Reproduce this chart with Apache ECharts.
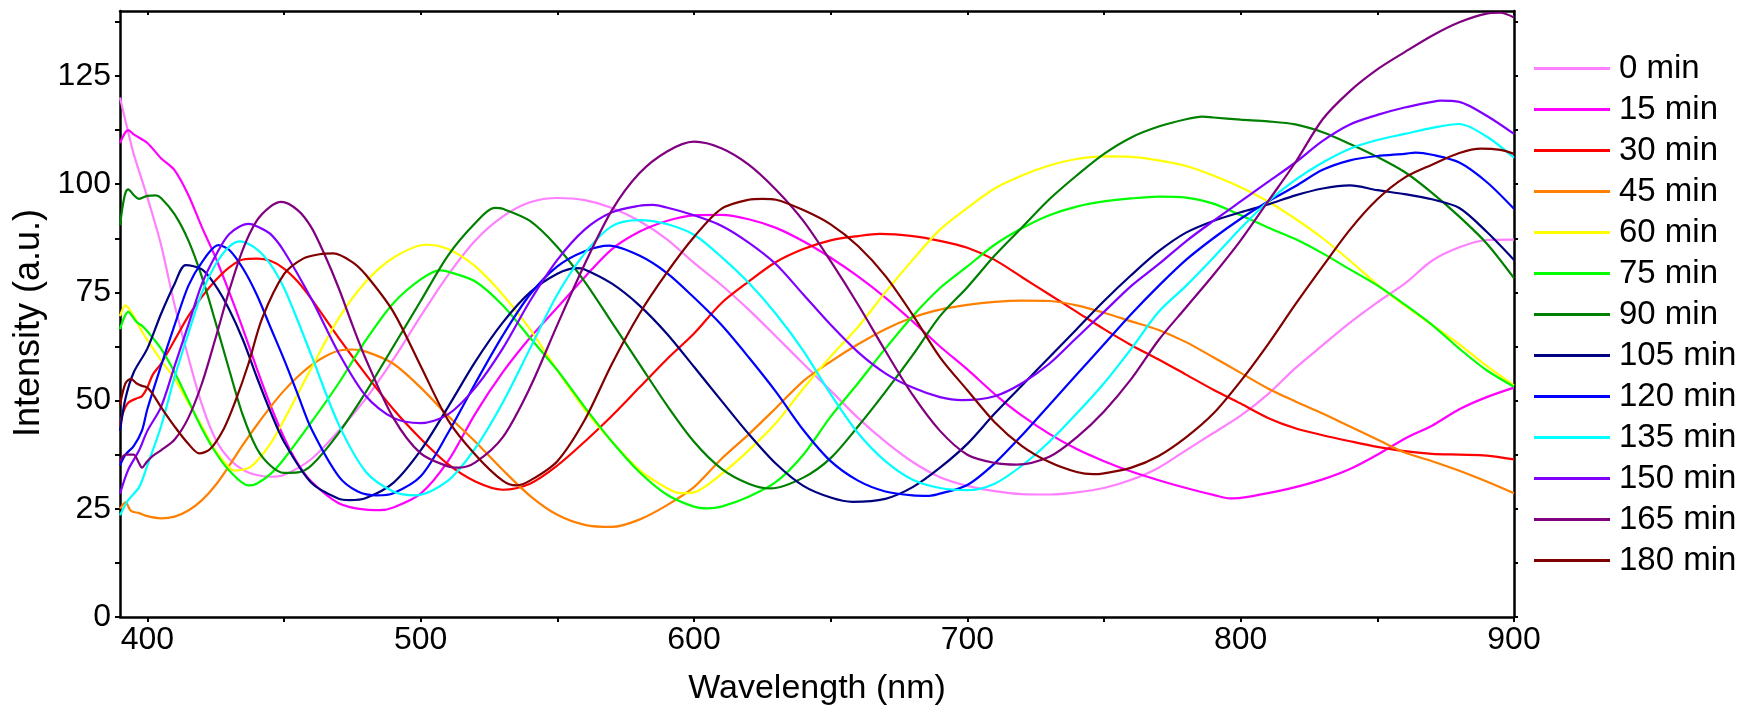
<!DOCTYPE html>
<html><head><meta charset="utf-8">
<script src="https://cdn.jsdelivr.net/npm/echarts@6/dist/echarts.min.js"></script>
<style>html,body{margin:0;padding:0;background:#fff}#c{width:1753px;height:718px}</style>
</head><body><div id="c"></div>
<script>
const seriesNames = ['0 min','15 min','30 min','45 min','60 min','75 min','90 min','105 min','120 min','135 min','150 min','165 min','180 min'];
const seriesColors = ['#FF80FF','#FF00FF','#FF0000','#FF8000','#FFFF00','#00FF00','#008000','#000080','#0000FF','#00FFFF','#8000FF','#800080','#800000'];

const s0 = [[390,120],[393,112],[395,107],[398,101],[400,97],[405,86],[410,72],[415,60],[420,49],[425,41],[430,36.5],[435,34],[440,32.8],[445,32.4],[450,32.8],[460,36.5],[470,43],[480,50.5],[490,59.5],[500,69.5],[510,79],[520,87],[530,92.5],[540,95.8],[550,96.8],[560,96.3],[570,94.5],[580,91.5],[590,87.3],[600,81.8],[610,76.7],[620,71],[630,64.8],[640,58.5],[650,52.3],[660,46],[670,40.5],[680,35.8],[690,32.3],[700,30.3],[710,29.1],[720,28.4],[730,28.3],[740,28.8],[750,29.8],[760,31.7],[770,34.5],[780,38.5],[790,42.5],[800,46.5],[810,51.5],[820,57.5],[830,62.8],[840,68],[850,72.7],[860,77],[870,82.3],[880,85.4],[890,87.1],[900,87.2]];
const s15 = [[390,109.5],[392,112],[393,112.5],[395,111.5],[400,109.5],[405,106],[410,103.2],[415,97.5],[420,90],[425,83],[430,75],[435,66.5],[440,57.5],[445,49],[450,41.5],[455,35.5],[460,31.3],[470,26.3],[480,24.8],[485,24.7],[490,25.3],[500,28.5],[510,36],[520,47],[530,56.5],[540,64.5],[550,71.5],[560,78.5],[570,85],[580,89],[590,91.5],[600,92.8],[610,92.9],[620,91.9],[630,89.9],[640,86.8],[650,83],[660,78.7],[670,73.8],[680,68.3],[690,62.5],[700,57.2],[710,51.5],[720,46.5],[730,42.3],[740,38.8],[750,36],[760,33.6],[770,31.6],[780,29.8],[790,28.2],[796,27.4],[800,27.5],[810,28.6],[820,30],[830,31.8],[840,34.2],[850,37.5],[860,41.2],[870,44.2],[880,48],[890,50.8],[900,53]];
const s30 = [[390,44],[391,47],[393,49.5],[396,50.5],[398,51],[400,53],[402,56],[405,58.5],[410,64],[415,69.5],[420,74],[425,77.8],[430,80.8],[435,82.6],[440,82.8],[445,82.3],[450,80.5],[455,77.5],[460,73.5],[470,64.5],[480,56],[490,48],[500,41.2],[510,35.3],[520,31.3],[530,29.4],[540,30.8],[550,35],[560,40.5],[570,46.5],[580,53],[590,59.5],[600,65.5],[610,72.5],[620,77.5],[630,82],[640,85],[650,87],[660,88],[668,88.5],[680,88],[690,86.9],[700,85.3],[710,82.5],[720,78.5],[730,74.5],[740,70.5],[750,66.5],[760,62.8],[770,59.5],[780,56],[790,52.5],[800,49.3],[810,46],[820,43.6],[830,42],[840,40.6],[850,39.3],[860,38.3],[870,37.7],[880,37.5],[890,37.3],[900,36.4]];
const s45 = [[390,25],[392,26.5],[394,24.5],[397,24],[400,23.3],[405,22.8],[410,23.2],[415,24.6],[420,27],[425,30.5],[430,35],[435,39.8],[440,44.3],[445,48.5],[450,52.3],[455,55.5],[460,58.2],[465,60.2],[470,61.5],[475,61.8],[480,61.3],[490,58.5],[500,53],[510,46.5],[520,40.5],[530,34],[540,28],[550,23.6],[560,21.3],[570,20.8],[580,22.5],[590,25.8],[600,30],[610,36.5],[620,42.2],[630,48.3],[640,54.5],[650,59],[660,63],[670,66.5],[680,69.2],[690,71],[700,72.1],[710,72.8],[720,73.1],[730,73],[740,72],[750,70.3],[760,68.3],[770,66.3],[780,63.5],[790,60],[800,56.4],[810,52.8],[820,49.8],[830,47],[840,44],[850,41],[860,38],[870,36],[880,33.8],[890,31.3],[900,28.6]];
const s60 = [[390,69.5],[392,72],[395,69.5],[398,66],[400,64],[405,59.3],[410,55],[415,49.5],[420,44],[425,38.3],[430,34.5],[432,33.8],[437,34.4],[440,36],[445,40],[450,45.5],[455,51.5],[460,57.5],[470,69],[480,77.5],[490,83],[502,86],[510,85],[520,81],[530,74.5],[540,66.5],[550,57],[560,48],[570,40.5],[580,34],[590,29.8],[595,28.6],[600,28.8],[610,33],[620,38.5],[630,44.8],[640,52.8],[650,60.2],[660,67],[670,75],[680,82.5],[690,89.5],[700,94.5],[710,99],[720,102],[730,104.3],[740,105.8],[750,106.4],[760,106.3],[770,105.5],[780,104.2],[790,102],[800,99.3],[810,96],[820,92],[830,87.5],[840,82.3],[850,76.8],[860,72],[870,67.5],[880,63],[890,58],[900,53.5]];
const s75 = [[390,66.5],[393,70.5],[396,68.2],[398,67.3],[400,66],[405,62],[410,56.5],[415,50],[420,43.5],[425,38],[430,33.8],[437,30.4],[440,30.8],[445,33],[450,36.5],[460,45],[470,54],[480,64],[490,72.5],[500,78],[507,80.1],[510,79.8],[520,77.5],[530,72],[540,64.5],[550,57],[560,48.5],[570,40.5],[580,33.5],[590,28.3],[600,25.5],[605,25.1],[610,25.5],[620,27.8],[630,31.2],[640,37.5],[650,46.3],[660,54],[670,62],[680,69.5],[690,76],[700,81],[710,86],[720,89.8],[730,92.8],[740,94.8],[750,96],[760,96.7],[770,97.1],[780,96.9],[790,95.5],[800,92.8],[810,90],[820,87.3],[830,84],[840,80.3],[850,76.6],[860,72.2],[870,67.5],[880,62],[890,57],[900,53.2]];
const s90 = [[390,90.5],[391,95],[392,98],[393,98.8],[395,97.5],[397,96.6],[400,97.3],[403,97.4],[405,96.8],[410,93],[415,87],[420,78.5],[425,68],[430,57],[435,46.5],[440,39],[445,35],[450,33.3],[455,33.4],[460,35],[470,42.5],[480,52],[490,62.5],[500,73],[510,83.5],[520,91],[527,94.5],[530,94.3],[540,91.5],[550,85.5],[560,77.5],[570,68],[580,58.5],[590,49],[600,40.5],[610,34.3],[620,30.8],[628,29.7],[640,32.2],[650,36.7],[660,44],[670,52],[680,60.5],[690,69.5],[700,76.2],[710,83.5],[720,90],[730,96.5],[740,102],[750,107],[760,110.8],[770,113.3],[780,115],[786,115.6],[790,115.4],[800,114.9],[810,114.5],[820,113.8],[830,112],[840,109.3],[850,106.3],[860,102.8],[870,98],[880,92.5],[890,86.3],[900,78.3]];
const s105 = [[390,43],[392,50.5],[395,56.5],[400,62],[405,70],[410,77],[414,81.3],[420,80.3],[425,76.5],[430,71],[435,64],[440,55.5],[445,47.5],[450,40.5],[460,31],[470,27.3],[474,27],[480,27.5],[490,31],[500,38.5],[510,48.5],[520,59],[530,68],[540,75],[550,79.3],[557,80.6],[560,80.3],[570,77],[580,72],[590,65.5],[600,57.8],[610,50],[620,42.3],[630,35.4],[640,30.3],[650,27.6],[658,26.6],[670,27.3],[680,30],[690,34.5],[700,40],[710,47],[720,53.5],[730,60],[740,66.5],[750,73],[760,79],[770,84.5],[780,88.8],[790,91.5],[800,93.5],[810,95.3],[820,97.4],[830,99],[840,99.7],[850,98.6],[860,97.7],[870,96.5],[880,94.5],[890,89],[900,82.5]];
const s120 = [[390,35],[392,37.5],[395,39.5],[398,43],[400,48],[405,58],[410,67.5],[415,76.5],[420,82],[426,85.9],[430,84.8],[435,80.5],[440,74.5],[445,67],[450,59.5],[455,51.5],[460,43.5],[470,32.5],[477,29],[484,28.1],[490,28.6],[500,32.5],[510,42.5],[520,54],[530,65],[540,74.5],[550,81],[560,84.5],[569,85.8],[580,83.5],[590,79.5],[600,73.8],[610,67.5],[620,60],[630,52],[640,43.2],[650,36],[660,31.5],[670,29],[680,28.1],[686,28],[690,28.5],[700,30.5],[710,35.5],[720,42],[730,49],[740,56],[750,63],[760,70],[770,76.5],[780,82.5],[790,87.5],[800,92],[810,96],[820,99.5],[830,103.3],[840,105.5],[850,106.5],[860,107],[864,107.3],[870,106.8],[880,105],[890,100.5],[900,94.3]];
const s135 = [[390,23.5],[393,27],[397,30],[400,35],[405,44],[410,55.5],[415,65.5],[420,75],[425,81.5],[430,85.6],[434,86.8],[440,85],[445,81.5],[450,76],[455,68.5],[460,60.5],[470,44.5],[480,33.5],[490,29],[498,28.1],[510,31.5],[520,39],[530,49.5],[540,62],[550,74.5],[560,84],[570,90.3],[580,91.7],[590,90.8],[600,88.3],[610,83.2],[620,77.2],[630,70],[640,61.5],[650,51.5],[660,42.5],[670,36],[680,31.7],[690,29.8],[700,29.3],[710,30.8],[720,35],[730,40.5],[740,47],[750,54],[760,62],[770,70.5],[780,76.5],[790,83],[800,89.8],[810,96],[820,101],[830,105],[840,108.2],[850,110.2],[860,111.6],[870,113],[880,113.9],[890,111],[900,106.1]];
const s150 = [[390,28.5],[393,34],[397,38.5],[400,43],[405,48.5],[410,58],[415,67.5],[420,77],[425,83.5],[430,88.5],[437,90.8],[440,90.3],[445,88.5],[450,84.5],[460,73.5],[470,61],[480,51],[490,46],[500,44.8],[510,46.8],[520,53],[530,62],[540,73],[550,82.5],[560,89.5],[570,93.5],[580,95],[585,95.2],[590,94.6],[600,92.8],[610,90.4],[620,86.5],[630,81.5],[640,74.5],[650,67.5],[660,61.2],[670,56.3],[680,53],[690,50.8],[698,50.1],[710,51],[720,54],[730,58.5],[740,64.5],[750,70.5],[760,76.5],[770,81.5],[780,86.8],[790,91.5],[800,96],[810,100.5],[820,105],[830,110],[840,113.8],[850,116],[860,117.7],[870,119],[873,119.3],[880,119],[890,115.8],[900,111.6]];
const s165 = [[390,36],[392,37.5],[395,37.5],[397,35.5],[398,34.5],[400,36],[402,37.2],[405,38.5],[410,41],[415,46],[420,54],[425,64.5],[430,75.5],[435,85],[440,91.5],[445,94.8],[449,95.9],[455,94],[460,90],[465,83.5],[470,76],[475,67.5],[480,59.5],[490,46],[500,37.8],[510,34.8],[514,34.5],[520,35.7],[530,41.5],[540,53],[550,67.5],[560,81.5],[570,94],[580,102.5],[590,107.5],[600,109.8],[610,108.3],[620,104.5],[630,98.7],[640,91.5],[650,82.2],[660,72.2],[670,61.5],[680,51.3],[690,43],[700,37.5],[710,35.6],[718,35.2],[730,37],[740,41.5],[750,47.5],[760,55],[770,64],[780,71.5],[790,79],[800,87],[810,96],[820,105],[830,115],[840,121.5],[850,126.5],[860,130.5],[870,134.3],[880,137.4],[890,139.4],[895,139.6],[900,138.5]];
const s180 = [[390,49],[392,54],[394,55],[396,54],[398,53.4],[400,53],[402,51.5],[405,48.5],[410,44],[415,40],[419,37.8],[423,38.8],[428,43.5],[432,49.5],[437,58.5],[442,69],[450,79.2],[457,82.8],[463,83.8],[468,84],[475,82],[480,79],[490,70.5],[500,58],[510,45.5],[520,37.5],[530,31.5],[535,30.4],[540,31.5],[550,36],[560,45.5],[570,58.5],[580,70],[590,79.5],[600,87.8],[610,94.3],[620,96.4],[625,96.6],[630,96.4],[640,94],[650,90.7],[660,85.7],[670,78.8],[680,69.8],[690,60],[700,52.4],[710,45],[720,39.5],[730,35.8],[740,33.5],[746,33],[750,33.2],[760,34.5],[770,37.2],[780,41.5],[790,47],[800,54.5],[810,63],[820,72.2],[830,81],[840,89.5],[850,96.5],[860,101.5],[870,104.5],[880,107.2],[888,108.2],[895,107.9],[900,107]];

const seriesData = [s0,s15,s30,s45,s60,s75,s90,s105,s120,s135,s150,s165,s180];

const xLabelValues = [400,500,600,700,800,900];
const xTickValues = [400,450,500,550,600,650,700,750,800,850,900];
const yLabelValues = [0,25,50,75,100,125];
const yTickValues = [0,12.5,25,37.5,50,62.5,75,87.5,100,112.5,125,137.5];

const FONT = "'Liberation Sans', Arial, sans-serif";
const chart = echarts.init(document.getElementById('c'), null, {renderer:'canvas'});
const axisLine = {show:true, onZero:false, lineStyle:{color:'#000', width:2.5}};
const option = {
  animation:false,
  backgroundColor:'#fff',
  textStyle:{fontFamily:FONT},
  grid:{left:120, top:11, width:1394, height:606, containLabel:false},
  legend:{
    orient:'vertical', left:1534, top:52, padding:0, itemWidth:76, itemHeight:3, itemGap:8, icon:'rect',
    textStyle:{fontSize:33, fontFamily:FONT, color:'#000', lineHeight:33, padding:[0,0,0,4]},
    data:seriesNames
  },
  xAxis:[{
    type:'value', min:390, max:900, position:'bottom',
    axisLine:axisLine,
    axisTick:{show:true, inside:false, length:5, customValues:xTickValues, lineStyle:{color:'#000', width:2}},
    axisLabel:{show:true, customValues:xLabelValues, margin:7, fontSize:32, fontFamily:FONT, color:'#000'},
    splitLine:{show:false},
    name:'Wavelength (nm)', nameLocation:'middle', nameGap:55,
    nameTextStyle:{fontSize:34, fontFamily:FONT, color:'#000'}
  },{
    type:'value', min:390, max:900, position:'top',
    axisLine:axisLine,
    axisTick:{show:true, inside:true, length:4, customValues:xTickValues, lineStyle:{color:'#000', width:2}},
    axisLabel:{show:false}, splitLine:{show:false}
  }],
  yAxis:[{
    type:'value', min:0, max:140, position:'left',
    axisLine:axisLine,
    axisTick:{show:true, inside:false, length:5, customValues:yTickValues, lineStyle:{color:'#000', width:2}},
    axisLabel:{show:true, customValues:yLabelValues, margin:9, fontSize:32, fontFamily:FONT, color:'#000'},
    splitLine:{show:false},
    name:'Intensity (a.u.)', nameLocation:'middle', nameGap:72,
    nameTextStyle:{fontSize:36, fontFamily:FONT, color:'#000', padding:[0,18,0,0]}
  },{
    type:'value', min:0, max:140, position:'right',
    axisLine:axisLine,
    axisTick:{show:true, inside:false, length:4, customValues:yTickValues, lineStyle:{color:'#000', width:2}},
    axisLabel:{show:false}, splitLine:{show:false}
  }],
  series: seriesData.map((d,i)=>({
    name:seriesNames[i], type:'line', data:d, xAxisIndex:0, yAxisIndex:0,
    showSymbol:false, symbol:'none', smooth:0.3,
    lineStyle:{color:seriesColors[i], width:2.2},
    itemStyle:{color:seriesColors[i]},
    clip:true
  }))
};
chart.setOption(option);
</script></body></html>
